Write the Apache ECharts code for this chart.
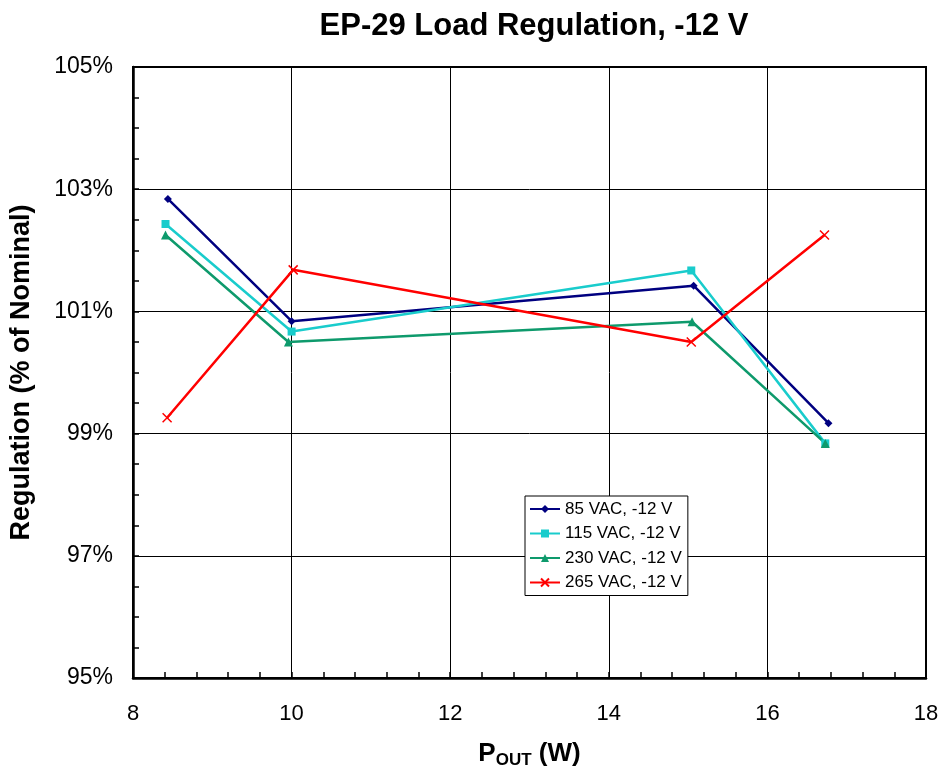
<!DOCTYPE html>
<html>
<head>
<meta charset="utf-8">
<title>EP-29 Load Regulation, -12 V</title>
<script src="https://cdn.jsdelivr.net/npm/echarts@6/dist/echarts.min.js"></script>
<style>
  html, body { margin: 0; padding: 0; background: #fff; }
  #chart { width: 945px; height: 775px; }
</style>
</head>
<body>
<div id="chart"></div>
<script>
// values (x = output power in W, y = % of nominal)
const seriesNames = ['85 VAC, -12 V', '115 VAC, -12 V', '230 VAC, -12 V', '265 VAC, -12 V']
const pout85 = [8.44, 10.0, 15.07, 16.77]
const reg85 = [102.84, 100.84, 101.42, 99.17]
const pout115 = [8.41, 10.0, 15.04, 16.73]
const reg115 = [102.43, 100.67, 101.67, 98.84]
const pout230 = [8.41, 9.96, 15.05, 16.73]
const reg230 = [102.25, 100.50, 100.83, 98.84]
const pout265 = [8.43, 10.02, 15.04, 16.72]
const reg265 = [99.26, 101.68, 100.50, 102.25]

const colors = ['#000080', '#19cccc', '#0e9a6c', '#ff0000']
const symbols = ['diamond', 'rect', 'triangle', 'path://M0,0L10,10M10,0L0,10']
const symbolSizes = [8, 8, 9, 9]

const font = 'Arial, "Liberation Sans", sans-serif'

const pairs = (xs, ys) => xs.map((x, i) => [x, ys[i]])
const allData = [
  pairs(pout85, reg85),
  pairs(pout115, reg115),
  pairs(pout230, reg230),
  pairs(pout265, reg265)
]

const chart = echarts.init(document.getElementById('chart'))

const option = {
  animation: false,
  backgroundColor: '#fff',
  title: {
    text: 'EP-29 Load Regulation, -12 V',
    left: 529,
    textAlign: 'center',
    top: 6,
    textStyle: { fontFamily: font, fontSize: 31, fontWeight: 'bold', color: '#000' }
  },
  legend: {
    orient: 'vertical',
    left: 525,
    top: 496,
    data: seriesNames,
    backgroundColor: '#fff',
    borderColor: '#000',
    borderWidth: 1,
    borderRadius: 0,
    padding: [4, 6, 4, 4],
    itemWidth: 30,
    itemHeight: 10,
    itemGap: 6.5,
    textStyle: { fontFamily: font, fontSize: 17, color: '#000', lineHeight: 18 }
  },
  grid: {
    left: 133,
    right: 19,
    top: 67,
    bottom: 97,
    show: true,
    borderColor: '#000',
    borderWidth: 2
  },
  xAxis: {
    type: 'value',
    min: 8,
    max: 18,
    interval: 2,
    name: '{b|P}{s|OUT}{b| (W)}',
    nameLocation: 'middle',
    nameGap: 60,
    nameTextStyle: {
      rich: {
        b: { fontFamily: font, fontSize: 26, fontWeight: 'bold', color: '#000' },
        s: { fontFamily: font, fontSize: 17, fontWeight: 'bold', color: '#000', padding: [14, 0, 0, 0] }
      }
    },
    axisLine: { lineStyle: { color: '#000', width: 2.5 } },
    axisTick: { inside: true, length: 6, lineStyle: { color: '#000', width: 1.5 } },
    minorTick: { show: true, splitNumber: 5, length: 6, lineStyle: { color: '#000', width: 1.5 } },
    axisLabel: { fontFamily: font, fontSize: 22, color: '#000', margin: 25 },
    splitLine: { show: true, lineStyle: { color: '#000', width: 1 } }
  },
  yAxis: {
    type: 'value',
    min: 95,
    max: 105,
    interval: 2,
    name: 'Regulation (% of Nominal)',
    nameLocation: 'middle',
    nameGap: 98,
    nameTextStyle: { fontFamily: font, fontSize: 27, fontWeight: 'bold', color: '#000' },
    axisLine: { lineStyle: { color: '#000', width: 2.5 } },
    axisTick: { inside: true, length: 6, lineStyle: { color: '#000', width: 1.5 } },
    minorTick: { show: true, splitNumber: 4, length: 6, lineStyle: { color: '#000', width: 1.5 } },
    axisLabel: {
      fontFamily: font, fontSize: 23, color: '#000', margin: 20,
      formatter: '{value}%'
    },
    splitLine: { show: true, lineStyle: { color: '#000', width: 1 } }
  },
  series: seriesNames.map((name, i) => ({
    name: name,
    type: 'line',
    data: allData[i],
    symbol: symbols[i],
    symbolSize: symbolSizes[i],
    showSymbol: true,
    lineStyle: { color: colors[i], width: 2.5 },
    itemStyle: {
      color: colors[i],
      borderColor: colors[i],
      borderWidth: i === 3 ? 1.5 : 0
    }
  }))
}

chart.setOption(option)
</script>
</body>
</html>
